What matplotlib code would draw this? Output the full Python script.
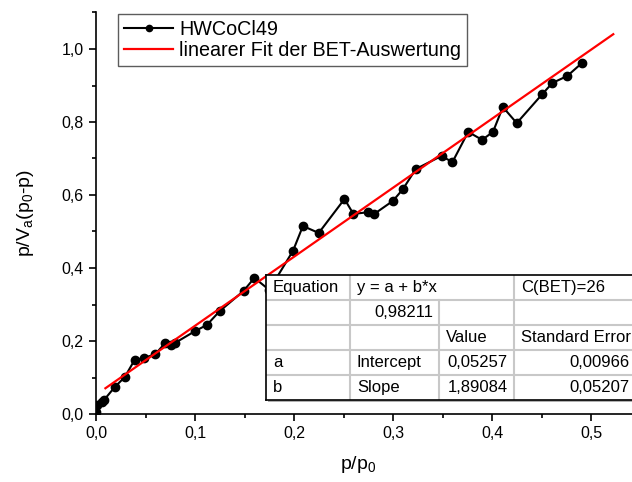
import matplotlib
matplotlib.use('Agg')
import matplotlib.pyplot as plt
from matplotlib.ticker import MultipleLocator, FuncFormatter
import numpy as np

plt.rcParams['font.family'] = ['Liberation Sans', 'DejaVu Sans']
plt.rcParams['mathtext.default'] = 'regular'

# ---- data ----
p_rel = [0.000, 0.001, 0.006, 0.008, 0.019, 0.029, 0.039, 0.048, 0.060, 0.070,
         0.076, 0.080, 0.100, 0.112, 0.125, 0.149, 0.160, 0.175, 0.199, 0.209,
         0.225, 0.251, 0.260, 0.275, 0.281, 0.300, 0.310, 0.323, 0.349, 0.360,
         0.376, 0.390, 0.401, 0.411, 0.425, 0.451, 0.461, 0.476, 0.491]
y_bet = [0.005, 0.025, 0.033, 0.038, 0.074, 0.101, 0.148, 0.153, 0.164, 0.195,
         0.189, 0.195, 0.227, 0.244, 0.282, 0.337, 0.373, 0.340, 0.447, 0.515,
         0.496, 0.589, 0.548, 0.553, 0.548, 0.584, 0.616, 0.671, 0.707, 0.690,
         0.773, 0.751, 0.773, 0.841, 0.797, 0.877, 0.907, 0.926, 0.962]

fit_intercept = 0.05257
fit_slope = 1.89084
fit_range = [0.0095, 0.5225]

series_label = "HWCoCl49"
fit_label = "linearer Fit der BET-Auswertung"
x_label = "p/p$_0$"
y_label = "p/V$_a$(p$_0$-p)"

table_rows = [
    ["Equation", "y = a + b*x", None, "C(BET)=26"],
    ["", "0,98211", "", ""],
    ["", "", "Value", "Standard Error"],
    ["a", "Intercept", "0,05257", "0,00966"],
    ["b", "Slope", "1,89084", "0,05207"],
]

# ---- figure ----
W, H = 632, 482
fig = plt.figure(figsize=(W / 100, H / 100), dpi=100)

def fx(px):
    return px / W

def fy(py):
    return 1 - py / H

ax_left, ax_bottom, ax_top = 96, 414, 12.5
ax = fig.add_axes([fx(ax_left), fy(ax_bottom), 1 - fx(ax_left), (ax_bottom - ax_top) / H])

ax.plot(p_rel, y_bet, color='black', lw=1.5, marker='o', ms=6, zorder=3)
fx_line = np.array(fit_range)
ax.plot(fx_line, fit_intercept + fit_slope * fx_line, color='#ff0000', lw=1.6, zorder=4)

ax.set_xlim(0, (W - ax_left) / 990)
ax.set_ylim(0, (ax_bottom - ax_top) / 365)

for s in ['top', 'right']:
    ax.spines[s].set_visible(False)
for s in ['left', 'bottom']:
    ax.spines[s].set_linewidth(1.2)

ax.xaxis.set_major_locator(MultipleLocator(0.1))
ax.xaxis.set_minor_locator(MultipleLocator(0.05))
ax.yaxis.set_major_locator(MultipleLocator(0.2))
ax.yaxis.set_minor_locator(MultipleLocator(0.1))
comma = FuncFormatter(lambda v, pos: f"{v:.1f}".replace('.', ','))
ax.xaxis.set_major_formatter(comma)
ax.yaxis.set_major_formatter(comma)
ax.tick_params(which='major', direction='out', length=5, width=1.2, labelsize=11.5, pad=4)
ax.tick_params(which='minor', direction='out', length=3, width=1.2)

ax.set_xlabel(x_label, fontsize=14)
ax.set_ylabel(y_label, fontsize=14)
ax.xaxis.set_label_coords(0.489, -0.10)
ax.yaxis.set_label_coords(-0.112, 0.5)

# legend
h1, = ax.plot([], [], color='black', lw=1.5, marker='o', ms=4.5, label=series_label)
h2, = ax.plot([], [], color='#ff0000', lw=1.6, label=fit_label)
leg = fig.legend(handles=[h1, h2], loc='upper left',
                 bbox_to_anchor=(fx(118), fy(14)), bbox_transform=fig.transFigure,
                 fontsize=14.2, frameon=True, fancybox=False, borderaxespad=0,
                 handlelength=2.5, handletextpad=0.3, borderpad=0.3,
                 labelspacing=0.1)
leg.get_frame().set_edgecolor('#333333')
leg.get_frame().set_linewidth(1.0)

# ---- table ----
col_edges = [266, 350, 439, 514, 640]
row_edges = [275, 300, 325, 350, 375, 400]

shadow = fig.add_axes([fx(col_edges[0] + 2), fy(row_edges[-1] + 2),
                       fx(col_edges[-1] - col_edges[0]), (row_edges[-1] - row_edges[0]) / H])
shadow.set_facecolor('#b0b0b0')
shadow.set_xticks([]); shadow.set_yticks([])
for s in shadow.spines.values():
    s.set_visible(False)
shadow.set_zorder(5)

tab = fig.add_axes([fx(col_edges[0]), fy(row_edges[-1]),
                    fx(col_edges[-1] - col_edges[0]), (row_edges[-1] - row_edges[0]) / H])
tab.set_zorder(6)
tab.set_facecolor('white')
tab.set_xlim(col_edges[0], col_edges[-1])
tab.set_ylim(row_edges[-1], row_edges[0])
tab.set_xticks([]); tab.set_yticks([])
for s in tab.spines.values():
    s.set_color('black')
    s.set_linewidth(1.2)

grid_c = '#c8c8c8'
for r in range(1, len(row_edges) - 1):
    tab.plot([col_edges[0], col_edges[-1]], [row_edges[r]] * 2, color=grid_c, lw=1.5)
for c in range(1, len(col_edges) - 1):
    y0 = row_edges[0]
    if c == 2:
        y0 = row_edges[1]
    tab.plot([col_edges[c]] * 2, [y0, row_edges[-1]], color=grid_c, lw=1.5)

def is_number(s):
    return s and s[0].isdigit()

for r, row in enumerate(table_rows):
    yc = (row_edges[r] + row_edges[r + 1]) / 2
    for c, txt in enumerate(row):
        if not txt:
            continue
        if is_number(txt):
            tab.text(col_edges[c + 1] - 6 if c < 3 else 630, yc, txt, ha='right', va='center', fontsize=12)
        else:
            tab.text(col_edges[c] + 7, yc, txt, ha='left', va='center', fontsize=12)

fig.savefig('out.png', dpi=100)
